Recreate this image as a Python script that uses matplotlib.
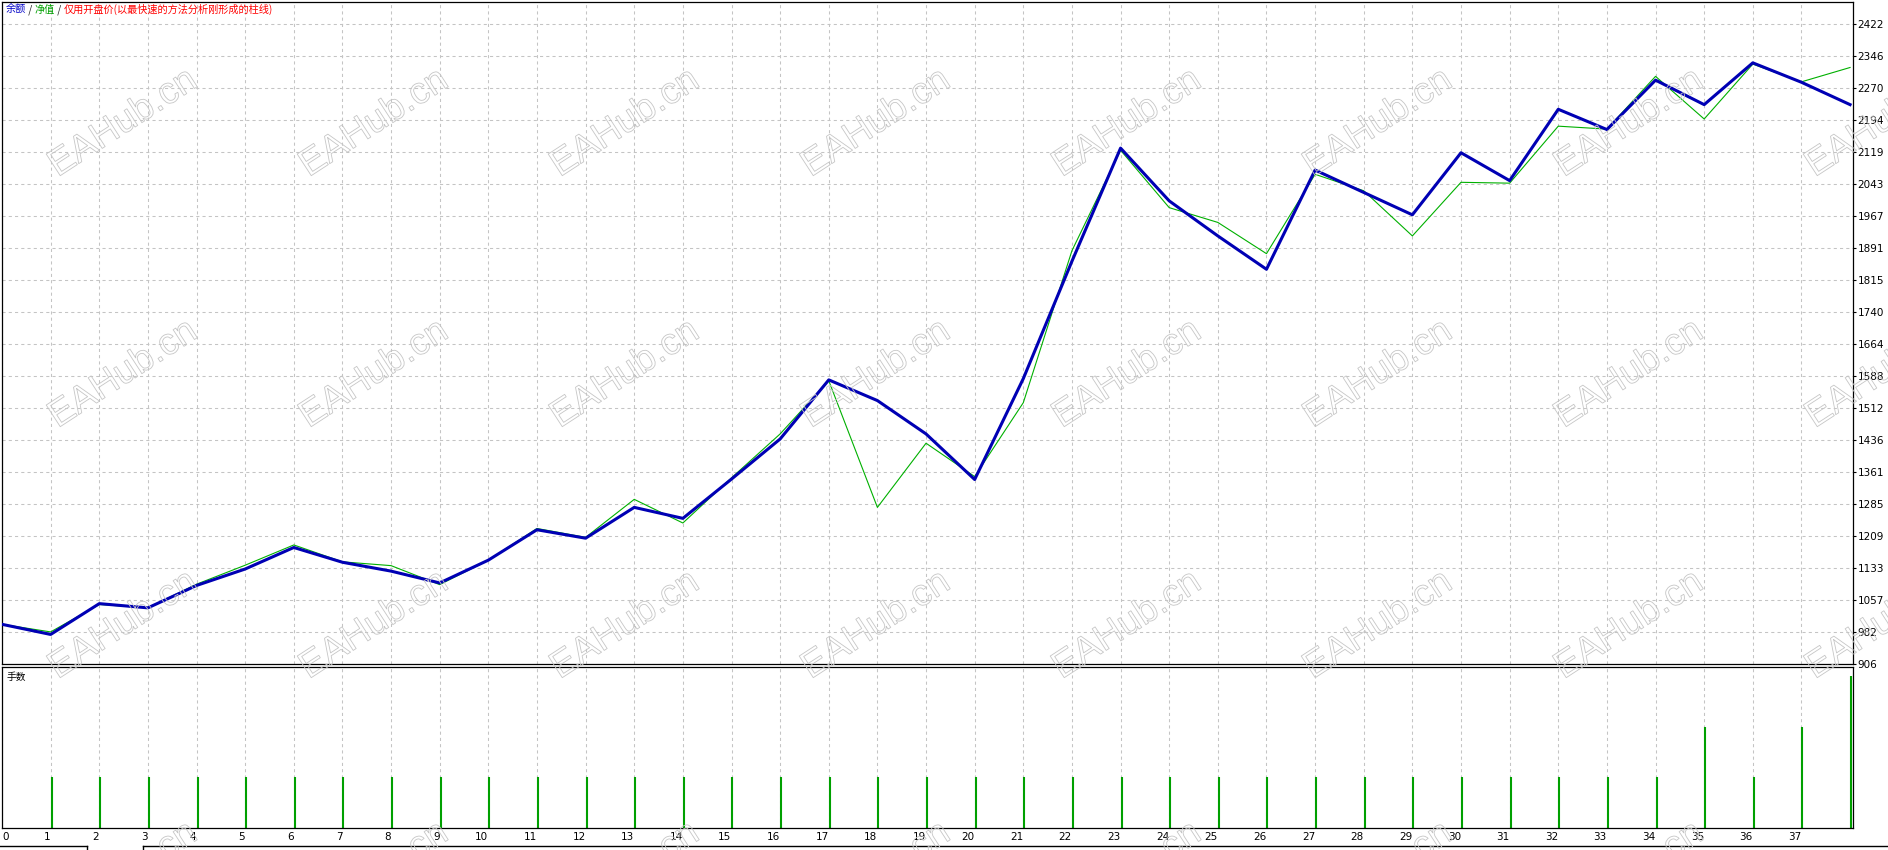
import matplotlib
matplotlib.use("Agg")
import matplotlib.pyplot as plt
import matplotlib.patheffects as pe
from matplotlib.lines import Line2D

W, H = 1888, 850

# balance / equity per trade
balance = [1000, 976, 1049, 1039, 1092, 1131, 1182, 1147, 1126, 1098,
           1152, 1224, 1204, 1277, 1251, 1344, 1439, 1579, 1530, 1451,
           1343, 1582, 1860, 2128, 2003, 1920, 1841, 2076, 2023, 1970,
           2117, 2051, 2220, 2172, 2289, 2231, 2330, 2284, 2231]
equity = [1000, 982, 1047, 1039, 1095, 1140, 1188, 1148, 1139, 1094,
          1152, 1227, 1206, 1296, 1240, 1347, 1451, 1577, 1277, 1429,
          1350, 1525, 1885, 2123, 1987, 1952, 1878, 2066, 2027, 1920,
          2047, 2045, 2180, 2173, 2298, 2197, 2327, 2285, 2319]
lots = [0.01] * 34 + [0.02, 0.01, 0.02, 0.03]
lot_x = list(range(1, 39))

y_ticks = [906, 981.8, 1057.6, 1133.4, 1209.2, 1285, 1360.8, 1436.6, 1512.4,
           1588.2, 1664, 1739.8, 1815.6, 1891.4, 1967.2, 2043, 2118.8,
           2194.6, 2270.4, 2346.2, 2422]
y_labels = ["906", "982", "1057", "1133", "1209", "1285", "1361", "1436",
            "1512", "1588", "1664", "1740", "1815", "1891", "1967", "2043",
            "2119", "2194", "2270", "2346", "2422"]
x_ticks = list(range(0, 38))

legend_parts = [("余额", "#0000c8"), (" / ", "#202020"), ("净值", "#00a000"),
                (" / ", "#202020"), ("仅用开盘价(以最快速的方法分析刚形成的柱线)", "#ff0000")]

plt.rcParams["font.family"] = ["DejaVu Sans"]
cjk = ["Noto Sans CJK SC", "DejaVu Sans"]

fig = plt.figure(figsize=(W / 100, H / 100), dpi=100)
fig.patch.set_facecolor("white")

ax1 = fig.add_axes([2 / W, (H - 664) / H, 1850.5 / W, 662 / H])
ax2 = fig.add_axes([2 / W, (H - 828) / H, 1850.5 / W, 161 / H])

grid_kw = dict(color="#c4c4c4", linestyle=(0, (3, 3)), linewidth=0.75)
for ax in (ax1, ax2):
    ax.set_xlim(0, 38.05)
    for s in ax.spines.values():
        s.set_linewidth(0.9)
        s.set_color("black")
    ax.set_xticks(x_ticks)
    ax.grid(True, axis="x", **grid_kw)
    ax.set_axisbelow(True)

# main panel
x = list(range(len(balance)))
ax1.plot(x, equity, color="#00b000", linewidth=0.8, zorder=3)
ax1.plot(x, balance, color="#0000b4", linewidth=2.2, zorder=4)
ax1.set_ylim(906, 906 + 662 / 32 * 75.8)
ax1.set_yticks(y_ticks)
ax1.set_yticklabels(y_labels)
ax1.grid(True, axis="y", **grid_kw)
ax1.yaxis.tick_right()
ax1.tick_params(axis="y", right=True, left=False, length=2.5, width=0.8,
                pad=1.2, labelsize=7.5)
ax1.tick_params(axis="x", bottom=False, labelbottom=False)

prev = None
for txt, col in legend_parts:
    if prev is None:
        prev = ax1.annotate(txt, xy=(4, 662 - 3), xycoords="axes pixels",
                            ha="left", va="top", color=col, fontsize=7.3,
                            family=cjk)
    else:
        prev = ax1.annotate(txt, xy=(1, 0), xycoords=prev, ha="left",
                            va="bottom", color=col, fontsize=7.3, family=cjk)

# lots panel
ax2.vlines([v + 0.02 for v in lot_x], 0, lots, color="#00a000", linewidth=1.5)
ax2.set_ylim(0, 0.03 * 161 / 152)
ax2.tick_params(axis="y", left=False, right=False, labelleft=False)
ax2.tick_params(axis="x", length=0, pad=3, labelsize=7.5)
ax2.set_xticklabels([str(v) for v in x_ticks])
for i, lbl in enumerate(ax2.get_xticklabels()):
    lbl.set_ha("left" if i == 0 else "right")
ax2.text(5 / 1850.5, 1 - 5 / 161, "手数", transform=ax2.transAxes,
         fontsize=7, family=cjk, va="top", ha="left")

# watermark
for j in range(4):
    for k in range(8):
        cx = 123 + 251 * k
        cy = 123 + 251 * j
        fig.text(cx / W, 1 - cy / H, "EAHub.cn", fontsize=27,
                 family="Liberation Sans", rotation=33, ha="center",
                 va="center", color="none", zorder=10,
                 path_effects=[pe.Stroke(linewidth=0.6, foreground="#c6c6c6")])

# bottom tab strip
yb = 1 - 846 / H
for x0, x1 in [(0, 87), (143, W)]:
    fig.add_artist(Line2D([x0 / W, x1 / W], [yb, yb], color="black",
                          linewidth=1.0, transform=fig.transFigure))
for xv in (87, 143):
    fig.add_artist(Line2D([xv / W, xv / W], [yb, 0], color="black",
                          linewidth=1.0, transform=fig.transFigure))

fig.savefig("out.png", dpi=100)
